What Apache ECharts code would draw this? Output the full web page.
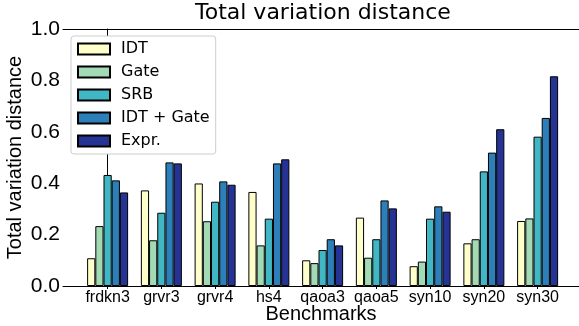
<!DOCTYPE html>
<html>
<head>
<meta charset="utf-8">
<script src="https://cdn.jsdelivr.net/npm/echarts@6/dist/echarts.min.js"></script>
<style>
  html, body { margin: 0; padding: 0; background: #fff; }
  #chart_container { width: 579px; height: 326px; }
</style>
</head>
<body>
<div id="chart_container"></div>
<script>
"use strict";
// benchmarks on the x axis
var benchmarks = ['frdkn3', 'grvr3', 'grvr4', 'hs4', 'qaoa3', 'qaoa5', 'syn10', 'syn20', 'syn30'];
var yTicks = [0, 0.2, 0.4, 0.6, 0.8, 1.0];

// total variation distance per method
var idt      = [0.108, 0.372, 0.399, 0.366, 0.100, 0.266, 0.077, 0.166, 0.253];
var gate     = [0.233, 0.178, 0.252, 0.158, 0.089, 0.110, 0.095, 0.182, 0.263];
var srb      = [0.432, 0.285, 0.328, 0.262, 0.140, 0.182, 0.262, 0.446, 0.581];
var idtGate  = [0.411, 0.481, 0.407, 0.477, 0.182, 0.333, 0.310, 0.519, 0.654];
var expr     = [0.364, 0.477, 0.394, 0.493, 0.158, 0.302, 0.289, 0.610, 0.816];

var seriesNames = ['IDT', 'Gate', 'SRB', 'IDT + Gate', 'Expr.'];
var seriesData = [idt, gate, srb, idtGate, expr];
var colors = ['#ffffcc', '#a1dab4', '#41b6c4', '#2c7fb8', '#253494'];

var tickPos = benchmarks.map(function (b, i) { return i; });
var xMin = -0.83, xMax = 8.77;

function drawChart() {
    var myChart = echarts.init(document.getElementById('chart_container'));

    var series = [];
    for (var i = 0; i < seriesNames.length; i++) {
        series.push({
            name: seriesNames[i],
            type: 'bar',
            xAxisIndex: 0,
            barWidth: 8.2,
            barGap: '0%',
            data: seriesData[i].map(function (v, j) { return [j, v]; }),
            itemStyle: {
                color: colors[i],
                borderColor: '#000',
                borderWidth: 1
            }
        });
    }

    var option = {
        animation: false,
        title: {
            text: 'Total variation distance',
            left: 195,
            top: 2,
            padding: 0,
            textStyle: {
                fontFamily: 'DejaVu Sans',
                fontSize: 22,
                fontWeight: 'normal',
                color: '#000'
            }
        },
        legend: {
            orient: 'vertical',
            left: 71,
            top: 36,
            itemWidth: 32,
            itemHeight: 11,
            itemGap: 7,
            padding: [5, 6, 5, 6],
            icon: 'rect',
            backgroundColor: '#fff',
            borderColor: '#cccccc',
            borderWidth: 1,
            borderRadius: 3,
            textStyle: {
                fontFamily: 'DejaVu Sans',
                fontSize: 16,
                color: '#000',
                padding: [0, 0, 0, 6]
            },
            data: seriesNames
        },
        grid: {left: 63, right: 0, top: 29, bottom: 40, outerBoundsMode: 'none', containLabel: false},
        xAxis: [{
            type: 'value',
            min: xMin,
            max: xMax,
            name: 'Benchmarks',
            nameLocation: 'middle',
            nameGap: 18,
            nameMoveOverlap: false,
            nameTextStyle: {fontFamily: 'Liberation Sans', fontSize: 20, color: '#000', verticalAlign: 'top'},
            axisLine: {lineStyle: {color: '#000', width: 1}},
            axisTick: {show: true, length: 3, customValues: tickPos, lineStyle: {color: '#000'}},
            axisLabel: {
                customValues: tickPos,
                margin: 4,
                fontFamily: 'Liberation Sans',
                fontSize: 16,
                color: '#000',
                formatter: function (v) { return benchmarks[Math.round(v)]; }
            },
            splitLine: {show: false}
        }, {
            type: 'value',
            position: 'top',
            min: xMin,
            max: xMax,
            axisLine: {show: true, onZero: false, lineStyle: {color: '#000', width: 1}},
            axisTick: {show: false},
            axisLabel: {show: false},
            splitLine: {show: false}
        }],
        yAxis: {
            type: 'value',
            min: 0,
            max: 1,
            interval: 0.2,
            name: 'Total variation distance',
            nameLocation: 'middle',
            nameGap: 38,
            nameMoveOverlap: false,
            nameTextStyle: {fontFamily: 'Liberation Sans', fontSize: 20, color: '#000'},
            axisLine: {show: true, lineStyle: {color: '#000', width: 1}},
            axisTick: {show: true, length: 3, lineStyle: {color: '#000'}},
            axisLabel: {
                margin: 3,
                fontFamily: 'Liberation Sans',
                fontSize: 21,
                color: '#000',
                formatter: function (v) { return v.toFixed(1); }
            },
            splitLine: {show: false}
        },
        series: series
    };
    myChart.setOption(option);
}

drawChart();
</script>
</body>
</html>
